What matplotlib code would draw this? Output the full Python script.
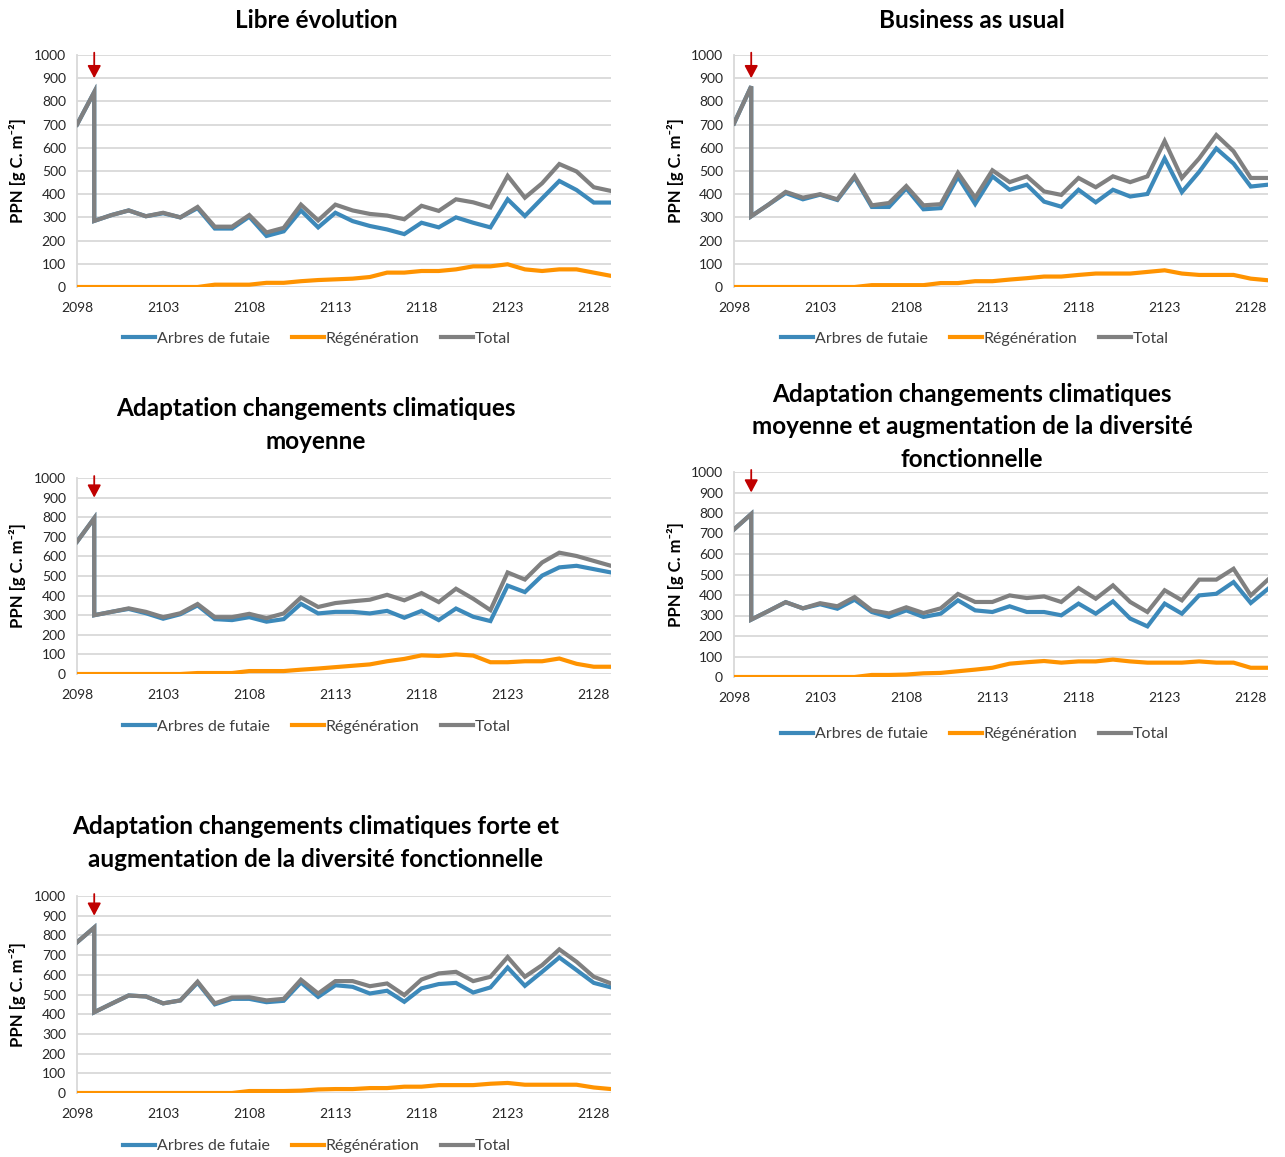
import numpy as np
import matplotlib
matplotlib.use("Agg")
import matplotlib.pyplot as plt
from matplotlib.lines import Line2D

plt.rcParams['font.family'] = ['Lato', 'DejaVu Sans']

# years: 2099 appears twice (value before and after the cut)
years = [2098, 2099, 2099] + list(range(2100, 2130))

# Libre évolution
libre_arbres = [700, 840, 285, 310, 330, 305, 318, 300, 340, 252, 252, 303, 220, 240, 330, 257,
                320, 284, 263, 248, 228, 277, 257, 300, 277, 257, 378, 306, 382, 457, 418, 364, 364]
libre_regen = [0, 0, 0, 0, 0, 0, 0, 0, 0, 10, 10, 10, 18, 18, 25, 30,
               33, 36, 43, 62, 62, 69, 69, 76, 89, 89, 98, 76, 69, 76, 76, 62, 48]
libre_total = [700, 840, 285, 310, 330, 305, 320, 300, 345, 260, 260, 310, 235, 255, 355, 287,
               355, 330, 315, 308, 292, 350, 328, 378, 365, 343, 479, 385, 447, 530, 498, 430, 414]

# Business as usual
bau_arbres = [705, 865, 305, 355, 405, 378, 398, 375, 472, 345, 345, 425, 335, 340, 475, 358,
              477, 419, 441, 368, 346, 419, 365, 419, 390, 401, 554, 409, 496, 597, 532, 433, 441]
bau_regen = [0, 0, 0, 0, 0, 0, 0, 0, 0, 8, 8, 8, 8, 17, 17, 25,
             25, 32, 38, 45, 45, 52, 58, 58, 58, 65, 72, 58, 52, 52, 52, 36, 29]
bau_total = [705, 865, 305, 355, 410, 385, 400, 378, 478, 352, 362, 435, 352, 357, 492, 385,
             503, 452, 477, 412, 397, 470, 430, 477, 452, 477, 629, 470, 554, 655, 585, 470, 470]

# Adaptation changements climatiques moyenne
acc_arbres = [675, 795, 300, 317, 332, 310, 282, 305, 350, 280, 275, 290, 267, 280, 358, 309,
              317, 317, 309, 322, 287, 322, 275, 334, 292, 270, 451, 418, 502, 544, 552, 535, 518]
acc_regen = [0, 0, 0, 0, 0, 0, 0, 0, 5, 5, 5, 15, 15, 15, 22, 28,
             35, 42, 49, 65, 77, 95, 92, 100, 94, 60, 60, 65, 65, 79, 52, 37, 37]
acc_total = [675, 795, 300, 317, 335, 317, 290, 310, 357, 290, 290, 307, 285, 309, 390, 342,
             362, 371, 379, 404, 376, 413, 367, 435, 384, 326, 518, 482, 569, 619, 602, 577, 552]

# Adaptation moyenne + diversité fonctionnelle
accd_arbres = [720, 795, 280, 322, 365, 335, 355, 333, 377, 317, 293, 325, 293, 309, 374, 325,
               317, 345, 317, 317, 301, 358, 309, 369, 285, 247, 358, 309, 398, 406, 463, 361, 430]
accd_regen = [0, 0, 0, 0, 0, 0, 0, 0, 0, 10, 10, 12, 18, 20, 28, 36,
              45, 65, 72, 78, 70, 76, 76, 85, 76, 70, 70, 70, 76, 70, 70, 45, 45]
accd_total = [720, 795, 280, 322, 365, 335, 360, 345, 390, 325, 310, 340, 312, 335, 405, 366,
              366, 398, 385, 393, 366, 434, 382, 447, 366, 317, 423, 374, 475, 475, 528, 398, 475]

# Adaptation forte + diversité fonctionnelle
accf_arbres = [765, 840, 410, 453, 495, 490, 455, 470, 560, 450, 478, 478, 461, 468, 561, 488,
               547, 539, 505, 519, 463, 531, 553, 559, 510, 536, 637, 544, 615, 688, 624, 559, 536]
accf_regen = [0, 0, 0, 0, 0, 0, 0, 0, 0, 0, 0, 10, 10, 10, 12, 18,
              20, 20, 25, 25, 32, 32, 40, 40, 40, 47, 51, 42, 42, 42, 42, 28, 20]
accf_total = [765, 840, 410, 453, 495, 490, 455, 470, 565, 455, 485, 486, 470, 478, 575, 505,
              568, 568, 542, 556, 497, 576, 607, 615, 568, 590, 690, 590, 649, 729, 666, 590, 556]

titles = ["Libre évolution",
          "Business as usual",
          "Adaptation changements climatiques\nmoyenne",
          "Adaptation changements climatiques\nmoyenne et augmentation de la diversité\nfonctionnelle",
          "Adaptation changements climatiques forte et\naugmentation de la diversité fonctionnelle"]
series_names = ["Arbres de futaie", "Régénération", "Total"]
xticks = [2098, 2103, 2108, 2113, 2118, 2123, 2128]
yticks = list(range(0, 1001, 100))
cut_year = 2099

c_blue = "#3C89BA"
c_orange = "#FF9300"
c_grey = "#808080"
c_grid = "#D9D9D9"

W, H = 1285, 1157
fig = plt.figure(figsize=(W / 100, H / 100), dpi=100)


def px_rect(l, t, r, b):
    return [l / W, 1 - b / H, (r - l) / W, (b - t) / H]


# panel layout in pixels: axes box, title centre, legend centre, y label x
panels = [
    dict(box=(77, 55, 611, 287), title=(316, 21), leg=(317, 339), ylab=18,
         data=(libre_arbres, libre_regen, libre_total)),
    dict(box=(734, 55, 1268, 287), title=(972, 21), leg=(975, 339), ylab=675,
         data=(bau_arbres, bau_regen, bau_total)),
    dict(box=(77, 478, 611, 674), title=(316, 425), leg=(317, 727), ylab=18,
         data=(acc_arbres, acc_regen, acc_total)),
    dict(box=(734, 472, 1268, 677), title=(972, 427), leg=(975, 734), ylab=675,
         data=(accd_arbres, accd_regen, accd_total)),
    dict(box=(77, 896, 611, 1093), title=(316, 843), leg=(317, 1146), ylab=18,
         data=(accf_arbres, accf_regen, accf_total)),
]

for p, title in zip(panels, titles):
    l, t, r, b = p["box"]
    ax = fig.add_axes(px_rect(l, t, r, b))
    arbres, regen, total = p["data"]
    ax.plot(years, arbres, color=c_blue, lw=3, solid_joinstyle="miter", zorder=3)
    ax.plot(years, regen, color=c_orange, lw=3, solid_joinstyle="miter", zorder=3)
    ax.plot(years, total, color=c_grey, lw=3, solid_joinstyle="miter", zorder=4)

    ax.set_xlim(2098, 2129)
    ax.set_ylim(0, 1000)
    ax.set_xticks(xticks)
    ax.set_yticks(yticks)
    ax.grid(axis="y", color=c_grid, lw=1.3)
    ax.set_axisbelow(True)
    for s in ["top", "right", "bottom"]:
        ax.spines[s].set_visible(False)
    ax.spines["left"].set_color(c_grid)
    ax.spines["left"].set_linewidth(1.3)
    ax.tick_params(length=0, labelsize=10, colors="#262626")
    ax.tick_params(axis="y", pad=8)
    ax.tick_params(axis="x", pad=11)

    # red arrow marking the cut
    ax.annotate("", xy=(cut_year, 900), xytext=(cut_year, 1010),
                arrowprops=dict(arrowstyle="-|>,head_width=0.4,head_length=0.75",
                                color="#C00000", lw=1.3, shrinkA=0, shrinkB=0),
                annotation_clip=False, zorder=5)

    fig.text(p["ylab"] / W, 1 - (t + b) / 2 / H, "PPN [g C. m⁻²]", rotation=90,
             ha="center", va="center", fontsize=12, fontweight="bold")
    fig.text(p["title"][0] / W, 1 - p["title"][1] / H, title, ha="center", va="center",
             fontsize=17.5, fontweight="bold", linespacing=1.5)

    handles = [Line2D([], [], color=c, lw=3) for c in (c_blue, c_orange, c_grey)]
    fig.legend(handles, series_names, loc="center", ncol=3, frameon=False,
               bbox_to_anchor=(p["leg"][0] / W, 1 - p["leg"][1] / H),
               fontsize=11.5, handlelength=2.0, handletextpad=0.1, columnspacing=1.4,
               labelcolor="#404040")

fig.savefig("out.png", dpi=100)
